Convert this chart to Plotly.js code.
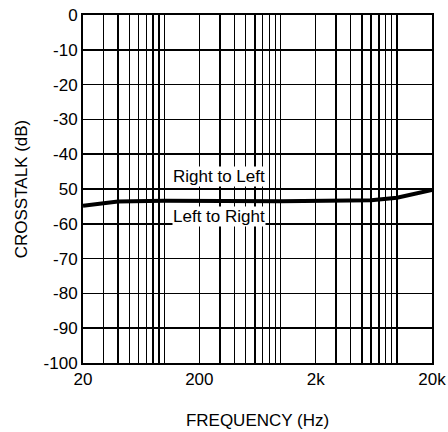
<!DOCTYPE html>
<html><head><meta charset="utf-8">
<script src="https://cdn.plot.ly/plotly-3.0.1.min.js"></script>
<style>html,body{margin:0;padding:0;background:#fff}#c{width:448px;height:432px}</style>
</head><body><div id="c"></div>
<script>
const freq = [20, 40, 100, 1000, 6000, 10000, 20000];
const crosstalk = [-54.8, -53.6, -53.4, -53.5, -53.2, -52.5, -50.3];
const xTickVals = [20, 200, 2000, 20000];
const xTickText = ['20', '200', '2k', '20k'];
const yTickVals = [0, -10, -20, -30, -40, -50, -60, -70, -80, -90, -100];
const yTickText = ['0', '-10', '-20', '-30', '-40', '50', '-60', '-70', '-80', '-90', '-100'];
const labels = ['Right to Left', 'Left to Right'];
const labelFreq = [295, 295];
const labelDb = [-46.5, -57.8];

const font = {family: 'Liberation Sans, Arial, sans-serif', size: 17, color: '#000'};
Plotly.newPlot('c', [{
  x: freq, y: crosstalk, type: 'scatter', mode: 'lines',
  line: {color: '#000', width: 4}, hoverinfo: 'skip'
}], {
  width: 448, height: 432,
  margin: {l: 83, r: 16, t: 15, b: 69},
  paper_bgcolor: '#fff', plot_bgcolor: '#fff',
  showlegend: false, font: font,
  xaxis: {
    type: 'log', range: [Math.log10(20), Math.log10(20000)],
    tickmode: 'array', tickvals: xTickVals, ticktext: xTickText,
    showgrid: true, gridcolor: '#000', gridwidth: 1.5,
    minor: {dtick: 'D1', showgrid: true, gridcolor: '#000', gridwidth: 1.5, ticks: ''},
    showline: true, linecolor: '#000', linewidth: 2, mirror: true,
    ticks: '', zeroline: false, tickfont: font,
    title: {text: 'FREQUENCY (Hz)', font: font, standoff: 26}
  },
  yaxis: {
    range: [-100, 0], tickmode: 'array', tickvals: yTickVals, ticktext: yTickText,
    showgrid: true, gridcolor: '#000', gridwidth: 1.5,
    showline: true, linecolor: '#000', linewidth: 2, mirror: true,
    ticks: '', zeroline: false, tickfont: font,
    title: {text: 'CROSSTALK (dB)', font: font, standoff: 12}
  },
  annotations: labels.map((t, i) => ({
    x: Math.log10(labelFreq[i]), y: labelDb[i], xref: 'x', yref: 'y',
    text: t, showarrow: false, bgcolor: '#fff', font: font, borderpad: 0
  }))
}, {displayModeBar: false, staticPlot: true});
</script></body></html>
